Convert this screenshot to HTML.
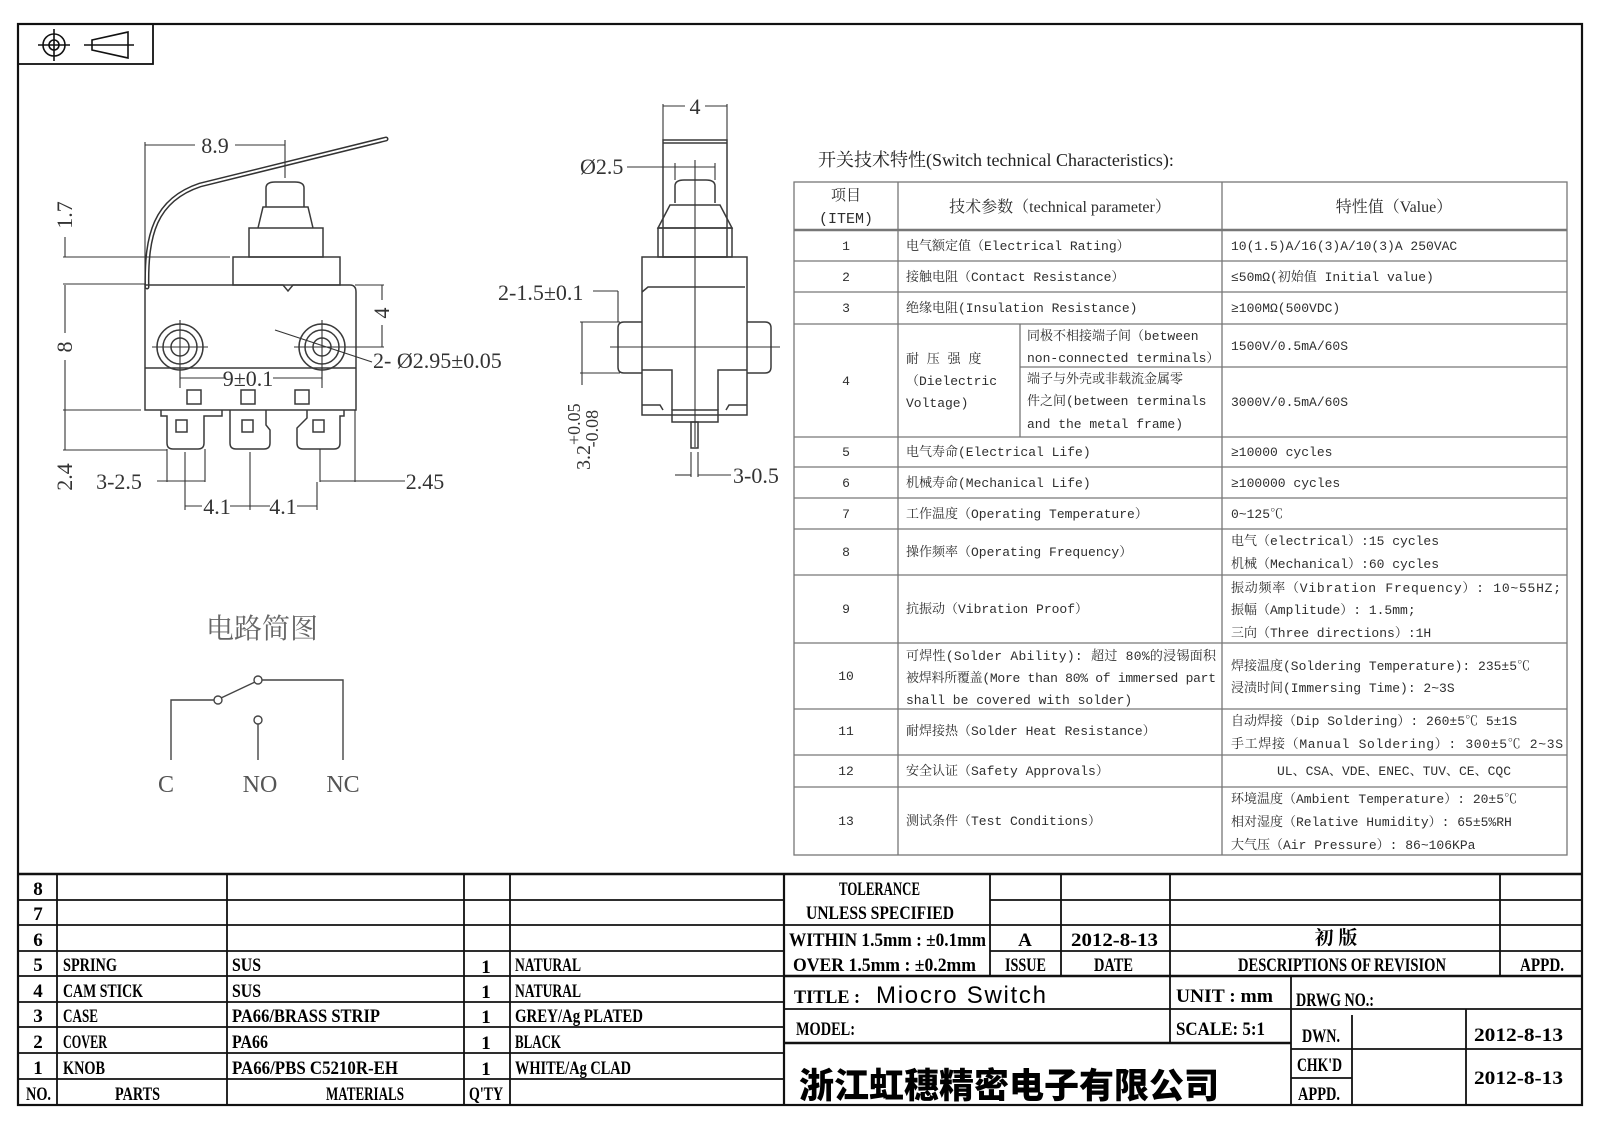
<!DOCTYPE html>
<html><head><meta charset="utf-8"><style>
html,body{margin:0;padding:0;background:#fff;}
svg{display:block;}
.d{stroke:#3a3a3a;stroke-width:1.5;fill:none;}
.t{stroke:#333;stroke-width:1.1;fill:none;}
.g{fill:#333;font-family:"Liberation Serif","Noto Serif CJK SC",serif;font-size:22px;}
.c{fill:#2e2e2e;font-family:"Liberation Mono","Noto Serif CJK SC",monospace;font-size:13px;}
.b{fill:#000;font-family:"Liberation Serif",serif;font-weight:bold;font-size:19px;}
.tl{stroke:#777;stroke-width:1.3;fill:none;}
.bl{stroke:#111;stroke-width:1.6;fill:none;}
</style></head><body>
<svg width="1600" height="1131" viewBox="0 0 1600 1131" xmlns="http://www.w3.org/2000/svg">
<rect x="18" y="24" width="1564" height="1081" fill="none" stroke="#111" stroke-width="2.2"/>
<rect x="18" y="24" width="135" height="40" fill="none" stroke="#111" stroke-width="1.8"/>
<circle cx="54" cy="45" r="11" class="bl"/><circle cx="54" cy="45" r="5" class="bl"/>
<line x1="38" y1="45" x2="70" y2="45" class="bl"/><line x1="54" y1="29" x2="54" y2="61" class="bl"/>
<polygon points="92,40 128,32 128,58 92,50" class="bl"/><line x1="84" y1="45" x2="134" y2="45" class="bl"/>

<!-- FRONT VIEW -->
<path d="M147,287 C146,235 155,200 200,185 L386,139" stroke="#333" stroke-width="5" fill="none" stroke-linecap="round"/>
<path d="M147,287 C146,235 155,200 200,185 L386,139" stroke="#fff" stroke-width="2" fill="none" stroke-linecap="round"/>
<path class="d" d="M145,285 L283,285 L288,291 L293,285 L350,285 Q356,285 356,292 L356,410 L145,410 Z"/>
<line class="d" x1="145" y1="368" x2="356" y2="368"/>
<rect class="d" x="233" y="257" width="107" height="28"/>
<rect class="d" x="249" y="228" width="74" height="29"/>
<path class="d" d="M258,228 L263,207 L308,207 L313,228"/>
<path class="d" d="M266,207 L266,188 Q266,182 275,182 L295,182 Q304,182 304,188 L304,207"/>
<circle class="d" cx="180" cy="347" r="23"/><circle class="d" cx="180" cy="347" r="17"/><circle class="d" cx="180" cy="347" r="9"/>
<circle class="d" cx="322" cy="347" r="23"/><circle class="d" cx="322" cy="347" r="17"/><circle class="d" cx="322" cy="347" r="9"/>
<line class="t" x1="152" y1="347" x2="208" y2="347"/><line class="t" x1="180" y1="320" x2="180" y2="380"/>
<line class="t" x1="294" y1="347" x2="384" y2="347"/><line class="t" x1="322" y1="320" x2="322" y2="380"/>
<rect class="d" x="187" y="390" width="14" height="14"/><rect class="d" x="241" y="390" width="14" height="14"/><rect class="d" x="295" y="390" width="14" height="14"/>
<path class="d" d="M161,410 L161,416 L167,416 L167,443 Q167,449 173,449 L198,449 Q204,449 204,443 L204,416 L222,416 L222,410"/>
<path class="d" d="M230,410 L230,443 Q230,449 236,449 L264,449 Q270,449 270,443 L270,430 L266,425 L266,410"/>
<path class="d" d="M297,443 Q297,449 303,449 L334,449 Q340,449 340,443 L340,416 L344,416 L344,410 M297,443 L297,428 L307,418 L307,410"/>
<rect class="d" x="176" y="420" width="11" height="12"/><rect class="d" x="242" y="420" width="11" height="12"/><rect class="d" x="313" y="420" width="11" height="12"/>
<!-- front dims -->
<line class="t" x1="145" y1="142" x2="145" y2="285"/><line class="t" x1="285" y1="140" x2="285" y2="178"/>
<line class="t" x1="145" y1="145" x2="195" y2="145"/><line class="t" x1="235" y1="145" x2="285" y2="145"/>
<text class="g" x="215" y="153" text-anchor="middle">8.9</text>
<line class="t" x1="63" y1="257" x2="230" y2="257"/><line class="t" x1="65" y1="237" x2="65" y2="257"/>
<text class="g" transform="translate(72,215) rotate(-90)" text-anchor="middle">1.7</text>
<line class="t" x1="63" y1="284" x2="145" y2="284"/><line class="t" x1="63" y1="410" x2="141" y2="410"/>
<line class="t" x1="65" y1="285" x2="65" y2="333"/><line class="t" x1="65" y1="360" x2="65" y2="410"/>
<text class="g" transform="translate(72,347) rotate(-90)" text-anchor="middle">8</text>
<line class="t" x1="63" y1="450" x2="167" y2="450"/><line class="t" x1="65" y1="410" x2="65" y2="450"/>
<text class="g" transform="translate(72,477) rotate(-90)" text-anchor="middle">2.4</text>
<line class="t" x1="355" y1="285" x2="384" y2="285"/><line class="t" x1="382" y1="285" x2="382" y2="300"/><line class="t" x1="382" y1="325" x2="382" y2="347"/>
<text class="g" transform="translate(389,313) rotate(-90)" text-anchor="middle">4</text>
<line class="t" x1="275" y1="330" x2="372" y2="362"/>
<text class="g" x="373" y="368">2- Ø2.95±0.05</text>
<line class="t" x1="180" y1="378" x2="225" y2="378"/><line class="t" x1="273" y1="378" x2="322" y2="378"/>
<line class="t" x1="180" y1="370" x2="180" y2="388"/><line class="t" x1="322" y1="370" x2="322" y2="388"/>
<text class="g" x="248" y="386" text-anchor="middle">9±0.1</text>
<line class="t" x1="167" y1="449" x2="167" y2="482"/><line class="t" x1="205" y1="449" x2="205" y2="482"/>
<line class="t" x1="157" y1="481" x2="205" y2="481"/>
<text class="g" x="119" y="489" text-anchor="middle">3-2.5</text>
<line class="t" x1="355" y1="410" x2="355" y2="482"/><line class="t" x1="320" y1="481" x2="405" y2="481"/>
<line class="t" x1="320" y1="449" x2="320" y2="482"/>
<text class="g" x="425" y="489" text-anchor="middle">2.45</text>
<line class="t" x1="185" y1="452" x2="185" y2="510"/><line class="t" x1="250" y1="452" x2="250" y2="510"/><line class="t" x1="317" y1="482" x2="317" y2="510"/>
<line class="t" x1="185" y1="506" x2="202" y2="506"/><line class="t" x1="230" y1="506" x2="270" y2="506"/><line class="t" x1="297" y1="506" x2="317" y2="506"/>
<text class="g" x="217" y="514" text-anchor="middle">4.1</text><text class="g" x="283" y="514" text-anchor="middle">4.1</text>

<!-- SIDE VIEW -->
<line class="t" x1="663" y1="104" x2="663" y2="140"/><line class="t" x1="727" y1="104" x2="727" y2="140"/>
<line class="t" x1="663" y1="106" x2="685" y2="106"/><line class="t" x1="705" y1="106" x2="727" y2="106"/>
<text class="g" x="695" y="114" text-anchor="middle">4</text>
<rect class="d" x="663" y="140" width="64" height="117"/><line class="d" x1="663" y1="143" x2="727" y2="143"/>
<line class="t" x1="627" y1="167" x2="715" y2="167"/><line class="t" x1="675" y1="163" x2="675" y2="180"/><line class="t" x1="715" y1="163" x2="715" y2="180"/>
<text class="g" x="580" y="174">Ø2.5</text>
<path class="d" d="M675,203 L675,186 Q675,180 684,180 L706,180 Q715,180 715,186 L715,203"/>
<path class="d" d="M670,205 L720,205 L732,228 L658,228 Z"/>
<rect class="d" x="658" y="228" width="74" height="29"/>
<rect class="d" x="642" y="257" width="105" height="158"/>
<path class="d" d="M642,292 L648,287 L745,287"/>
<path class="d" d="M642,322 L624,322 Q618,322 618,328 L618,367 Q618,373 624,373 L642,373"/>
<path class="d" d="M747,322 L765,322 Q771,322 771,328 L771,367 Q771,373 765,373 L747,373"/>
<path class="d" d="M642,370 L672,370 L672,410 M747,370 L718,370 L718,410"/>
<path class="d" d="M642,405 L660,405 L663,410 M747,405 L729,405 L726,410"/>
<rect class="d" x="672" y="410" width="46" height="12"/>
<rect class="d" x="691" y="422" width="7" height="26"/>
<line class="t" x1="695" y1="160" x2="695" y2="447"/><line class="t" x1="610" y1="347" x2="780" y2="347"/>
<text class="g" x="498" y="300">2-1.5±0.1</text>
<line class="t" x1="593" y1="291" x2="618" y2="291"/><line class="t" x1="618" y1="291" x2="618" y2="322"/>
<line class="t" x1="580" y1="322" x2="620" y2="322"/><line class="t" x1="580" y1="373" x2="620" y2="373"/>
<line class="t" x1="582" y1="322" x2="582" y2="385"/>
<text class="g" transform="translate(590,470) rotate(-90)" style="font-size:20px">3.2<tspan dy="-10" style="font-size:18px">+0.05</tspan><tspan dx="-44" dy="18" style="font-size:18px">-0.08</tspan></text>
<line class="t" x1="691" y1="452" x2="691" y2="477"/><line class="t" x1="698" y1="452" x2="698" y2="477"/>
<line class="t" x1="675" y1="475" x2="691" y2="475"/><line class="t" x1="698" y1="475" x2="731" y2="475"/>
<text class="g" x="733" y="483">3-0.5</text>

<!-- CIRCUIT -->
<text x="206" y="638" style="font-family:'Noto Serif CJK SC',serif;font-size:28px;fill:#666">电路简图</text>
<path d="M171,760 L171,700 L214,700 M221,698 L255,682 M262,680 L343,680 L343,760 M258,724 L258,760" stroke="#444" stroke-width="1.4" fill="none"/>
<circle cx="218" cy="700" r="4" stroke="#444" stroke-width="1.4" fill="#fff"/>
<circle cx="258" cy="680" r="4" stroke="#444" stroke-width="1.4" fill="#fff"/>
<circle cx="258" cy="720" r="4" stroke="#444" stroke-width="1.4" fill="#fff"/>
<g style="font-family:'Liberation Serif',serif;font-size:24px;fill:#555" text-anchor="middle">
<text x="166" y="792">C</text><text x="260" y="792">NO</text><text x="343" y="792">NC</text></g>

<!-- CHARACTERISTICS TABLE -->
<text x="818" y="166" style="font-family:'Liberation Serif','Noto Serif CJK SC',serif;font-size:18px;fill:#222">开关技术特性(Switch technical Characteristics):</text>
<g class="tl">
<rect x="794" y="182" width="773" height="673"/>
<line x1="794" y1="230" x2="1567" y2="230" stroke-width="2.5"/>
<line x1="794" y1="261" x2="1567" y2="261"/><line x1="794" y1="292" x2="1567" y2="292"/>
<line x1="794" y1="324" x2="1567" y2="324"/><line x1="1020" y1="367" x2="1567" y2="367"/>
<line x1="794" y1="437" x2="1567" y2="437"/><line x1="794" y1="467" x2="1567" y2="467"/>
<line x1="794" y1="498" x2="1567" y2="498"/><line x1="794" y1="529" x2="1567" y2="529"/>
<line x1="794" y1="575" x2="1567" y2="575"/><line x1="794" y1="643" x2="1567" y2="643"/>
<line x1="794" y1="709" x2="1567" y2="709"/><line x1="794" y1="755" x2="1567" y2="755"/>
<line x1="794" y1="787" x2="1567" y2="787"/>
<line x1="898" y1="182" x2="898" y2="855"/><line x1="1222" y1="182" x2="1222" y2="855"/>
<line x1="1020" y1="324" x2="1020" y2="437"/>
</g>
<g class="c">
<text x="846" y="200" text-anchor="middle" style="font-size:15px">项目</text>
<text x="846" y="223" text-anchor="middle" style="font-size:15px">(ITEM)</text>
<text x="1060" y="212" text-anchor="middle" style="font-family:'Liberation Serif','Noto Serif CJK SC',serif;font-size:16px">技术参数（technical parameter）</text>
<text x="1394" y="212" text-anchor="middle" style="font-family:'Liberation Serif','Noto Serif CJK SC',serif;font-size:16px">特性值（Value）</text>
<g text-anchor="middle">
<text x="846" y="250">1</text><text x="846" y="281">2</text><text x="846" y="312">3</text><text x="846" y="385">4</text>
<text x="846" y="456">5</text><text x="846" y="487">6</text><text x="846" y="518">7</text><text x="846" y="556">8</text>
<text x="846" y="613">9</text><text x="846" y="680">10</text><text x="846" y="735">11</text><text x="846" y="775">12</text><text x="846" y="825">13</text>
</g>
<text x="906" y="250">电气额定值（Electrical Rating）</text>
<text x="906" y="281">接触电阻（Contact  Resistance）</text>
<text x="906" y="312">绝缘电阻(Insulation Resistance)</text>
<text x="906" y="363">耐 压 强 度</text><text x="906" y="385">（Dielectric</text><text x="906" y="407">Voltage)</text>
<text x="1027" y="340">同极不相接端子间（between</text><text x="1027" y="362">non-connected terminals）</text>
<text x="1027" y="383">端子与外壳或非载流金属零</text><text x="1027" y="405">件之间(between terminals</text><text x="1027" y="428">and the metal frame)</text>
<text x="906" y="456">电气寿命(Electrical Life)</text>
<text x="906" y="487">机械寿命(Mechanical Life)</text>
<text x="906" y="518">工作温度（Operating Temperature）</text>
<text x="906" y="556">操作频率（Operating Frequency）</text>
<text x="906" y="613">抗振动（Vibration Proof）</text>
<text x="906" y="660" textLength="310">可焊性(Solder Ability): 超过 80%的浸锡面积</text>
<text x="906" y="682" textLength="310">被焊料所覆盖(More than 80% of immersed part</text>
<text x="906" y="704">shall be covered with solder)</text>
<text x="906" y="735">耐焊接热（Solder Heat Resistance）</text>
<text x="906" y="775">安全认证（Safety Approvals）</text>
<text x="906" y="825">测试条件（Test Conditions）</text>
<text x="1231" y="250">10(1.5)A/16(3)A/10(3)A  250VAC</text>
<text x="1231" y="281">≤50mΩ(初始值 Initial value)</text>
<text x="1231" y="312">≥100MΩ(500VDC)</text>
<text x="1231" y="350">1500V/0.5mA/60S</text>
<text x="1231" y="406">3000V/0.5mA/60S</text>
<text x="1231" y="456">≥10000 cycles</text>
<text x="1231" y="487">≥100000 cycles</text>
<text x="1231" y="518">0~125℃</text>
<text x="1231" y="545">电气（electrical）:15 cycles</text>
<text x="1231" y="568">机械（Mechanical）:60 cycles</text>
<text x="1231" y="592" textLength="330">振动频率（Vibration Frequency）: 10~55HZ;</text>
<text x="1231" y="614">振幅（Amplitude）: 1.5mm;</text>
<text x="1231" y="637">三向（Three directions）:1H</text>
<text x="1231" y="670">焊接温度(Soldering Temperature): 235±5℃</text>
<text x="1231" y="692">浸渍时间(Immersing Time): 2~3S</text>
<text x="1231" y="725">自动焊接（Dip Soldering）: 260±5℃ 5±1S</text>
<text x="1231" y="748" textLength="332">手工焊接（Manual Soldering）: 300±5℃ 2~3S</text>
<text x="1394" y="775" text-anchor="middle">UL、CSA、VDE、ENEC、TUV、CE、CQC</text>
<text x="1231" y="803">环境温度（Ambient Temperature）: 20±5℃</text>
<text x="1231" y="826">相对湿度（Relative Humidity）: 65±5%RH</text>
<text x="1231" y="849">大气压（Air Pressure）: 86~106KPa</text>
</g>

<!-- BOTTOM TABLES -->
<g stroke="#111" stroke-width="1.8" fill="none">
<line x1="18" y1="874" x2="1582" y2="874" stroke-width="2.4"/>
<line x1="18" y1="900" x2="784" y2="900"/><line x1="18" y1="925" x2="784" y2="925"/><line x1="18" y1="951" x2="784" y2="951"/>
<line x1="18" y1="976" x2="784" y2="976"/><line x1="18" y1="1002" x2="784" y2="1002"/><line x1="18" y1="1027" x2="784" y2="1027"/>
<line x1="18" y1="1053" x2="784" y2="1053"/><line x1="18" y1="1079" x2="784" y2="1079"/>
<line x1="57" y1="874" x2="57" y2="1105"/><line x1="227" y1="874" x2="227" y2="1105"/><line x1="464" y1="874" x2="464" y2="1105"/><line x1="510" y1="874" x2="510" y2="1105"/>
<line x1="784" y1="874" x2="784" y2="1105" stroke-width="2.2"/>
<line x1="990" y1="900" x2="1582" y2="900"/><line x1="784" y1="925" x2="1582" y2="925"/><line x1="990" y1="951" x2="1582" y2="951"/>
<line x1="784" y1="976" x2="1582" y2="976" stroke-width="2.4"/>
<line x1="990" y1="874" x2="990" y2="976"/><line x1="1061" y1="874" x2="1061" y2="976"/><line x1="1170" y1="874" x2="1170" y2="976"/><line x1="1500" y1="874" x2="1500" y2="976"/>
<line x1="784" y1="1009" x2="1291" y2="1009"/><line x1="784" y1="1043" x2="1291" y2="1043" stroke-width="2.4"/>
<line x1="1170" y1="976" x2="1170" y2="1043"/><line x1="1291" y1="976" x2="1291" y2="1105"/>
<line x1="1291" y1="1009" x2="1582" y2="1009"/><line x1="1291" y1="1049" x2="1582" y2="1049"/><line x1="1291" y1="1078" x2="1352" y2="1078"/>
<line x1="1352" y1="1015" x2="1352" y2="1105"/><line x1="1466" y1="1009" x2="1466" y2="1105"/>
</g>
<g class="b">
<g text-anchor="middle"><text x="38" y="895">8</text><text x="38" y="920">7</text><text x="38" y="946">6</text><text x="38" y="971">5</text><text x="38" y="997">4</text><text x="38" y="1022">3</text><text x="38" y="1048">2</text><text x="38" y="1074">1</text></g>
<text x="26" y="1100" textLength="25" lengthAdjust="spacingAndGlyphs">NO.</text>
<text x="115" y="1100" textLength="45" lengthAdjust="spacingAndGlyphs">PARTS</text>
<text x="326" y="1100" textLength="78" lengthAdjust="spacingAndGlyphs">MATERIALS</text>
<text x="469" y="1100" textLength="34" lengthAdjust="spacingAndGlyphs">Q'TY</text>
<text x="63" y="971" textLength="54" lengthAdjust="spacingAndGlyphs">SPRING</text><text x="63" y="997" textLength="80" lengthAdjust="spacingAndGlyphs">CAM STICK</text>
<text x="63" y="1022" textLength="35" lengthAdjust="spacingAndGlyphs">CASE</text><text x="63" y="1048" textLength="44" lengthAdjust="spacingAndGlyphs">COVER</text><text x="63" y="1074" textLength="42" lengthAdjust="spacingAndGlyphs">KNOB</text>
<text x="232" y="971" textLength="29" lengthAdjust="spacingAndGlyphs">SUS</text><text x="232" y="997" textLength="29" lengthAdjust="spacingAndGlyphs">SUS</text>
<text x="232" y="1022" textLength="148" lengthAdjust="spacingAndGlyphs">PA66/BRASS STRIP</text><text x="232" y="1048" textLength="36" lengthAdjust="spacingAndGlyphs">PA66</text>
<text x="232" y="1074" textLength="166" lengthAdjust="spacingAndGlyphs">PA66/PBS C5210R-EH</text>
<g text-anchor="middle"><text x="486" y="973">1</text><text x="486" y="998">1</text><text x="486" y="1023">1</text><text x="486" y="1049">1</text><text x="486" y="1075">1</text></g>
<text x="515" y="971" textLength="66" lengthAdjust="spacingAndGlyphs">NATURAL</text><text x="515" y="997" textLength="66" lengthAdjust="spacingAndGlyphs">NATURAL</text>
<text x="515" y="1022" textLength="128" lengthAdjust="spacingAndGlyphs">GREY/Ag PLATED</text><text x="515" y="1048" textLength="46" lengthAdjust="spacingAndGlyphs">BLACK</text>
<text x="515" y="1074" textLength="116" lengthAdjust="spacingAndGlyphs">WHITE/Ag CLAD</text>
<text x="839" y="895" textLength="81" lengthAdjust="spacingAndGlyphs">TOLERANCE</text>
<text x="806" y="919" textLength="148" lengthAdjust="spacingAndGlyphs">UNLESS  SPECIFIED</text>
<text x="789" y="946" textLength="197" lengthAdjust="spacingAndGlyphs">WITHIN 1.5mm : ±0.1mm</text>
<text x="793" y="971" textLength="183" lengthAdjust="spacingAndGlyphs">OVER 1.5mm : ±0.2mm</text>
<text x="1025" y="946" text-anchor="middle">A</text>
<text x="1071" y="946" textLength="87" lengthAdjust="spacingAndGlyphs">2012-8-13</text>
<text x="1336" y="944" text-anchor="middle" style="font-family:'Noto Serif CJK SC',serif">初  版</text>
<text x="1005" y="971" textLength="41" lengthAdjust="spacingAndGlyphs">ISSUE</text><text x="1094" y="971" textLength="39" lengthAdjust="spacingAndGlyphs">DATE</text>
<text x="1238" y="971" textLength="208" lengthAdjust="spacingAndGlyphs">DESCRIPTIONS  OF  REVISION</text><text x="1520" y="971" textLength="44" lengthAdjust="spacingAndGlyphs">APPD.</text>
<text x="794" y="1003" textLength="66" lengthAdjust="spacingAndGlyphs">TITLE :</text>
<text x="1176" y="1002" textLength="97" lengthAdjust="spacingAndGlyphs">UNIT :  mm</text>
<text x="1296" y="1006" textLength="78" lengthAdjust="spacingAndGlyphs">DRWG NO.:</text>
<text x="796" y="1035" textLength="59" lengthAdjust="spacingAndGlyphs">MODEL:</text>
<text x="1176" y="1035" textLength="89" lengthAdjust="spacingAndGlyphs">SCALE:  5:1</text>
<text x="1302" y="1042" textLength="38" lengthAdjust="spacingAndGlyphs">DWN.</text><text x="1474" y="1041" textLength="89" lengthAdjust="spacingAndGlyphs">2012-8-13</text>
<text x="1297" y="1071" textLength="45" lengthAdjust="spacingAndGlyphs">CHK'D</text><text x="1298" y="1100" textLength="42" lengthAdjust="spacingAndGlyphs">APPD.</text>
<text x="1474" y="1084" textLength="89" lengthAdjust="spacingAndGlyphs">2012-8-13</text>
</g>
<text x="876" y="1003" style="font-family:'Liberation Sans',sans-serif;font-size:24px;fill:#000" textLength="170">Miocro Switch</text>
<text x="799" y="1098" style="font-family:'Noto Sans CJK SC',sans-serif;font-weight:900;font-size:35px;fill:#000" textLength="420">浙江虹穗精密电子有限公司</text>
</svg>
</body></html>
